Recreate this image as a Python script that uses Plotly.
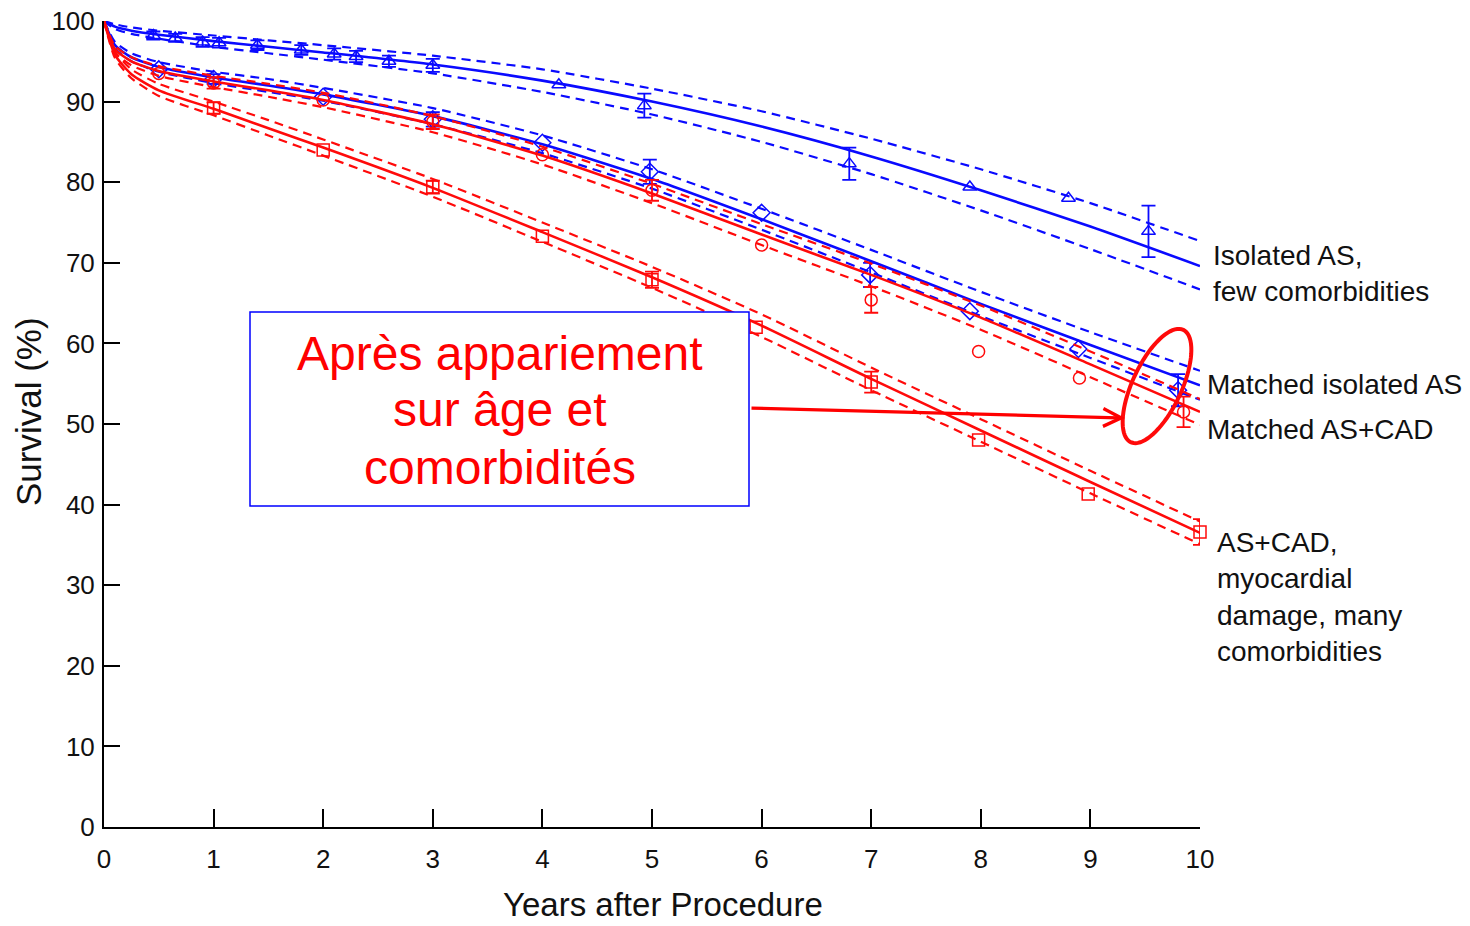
import numpy as np
import plotly.graph_objects as go

# ---------------- data ----------------
t = [0, 0.1, 0.25, 0.5, 1, 1.5, 2, 3, 4, 5, 6, 7, 8, 9, 10]

iso_fit = [100, 99.3, 98.8, 98.3, 97.5, 96.8, 96.1, 94.6, 92.6, 90.0, 86.9, 83.2, 79.0, 74.5, 69.6]
iso_hi = [100, 99.6, 99.2, 98.8, 98.2, 97.6, 97.0, 95.7, 94.0, 91.6, 88.8, 85.4, 81.6, 77.4, 72.7]
iso_lo = [100, 99.0, 98.4, 97.8, 96.8, 96.0, 95.2, 93.5, 91.2, 88.4, 85.0, 81.0, 76.5, 71.7, 66.7]

miso_fit = [100, 97.0, 95.5, 94.3, 93.0, 92.0, 90.9, 88.2, 84.7, 80.4, 75.4, 70.2, 64.9, 59.8, 54.8]
miso_hi = [100, 97.4, 96.0, 94.9, 93.7, 92.8, 91.7, 89.2, 85.8, 81.6, 76.7, 71.6, 66.4, 61.4, 56.6]
miso_lo = [100, 96.6, 95.0, 93.7, 92.3, 91.2, 90.1, 87.2, 83.6, 79.2, 74.1, 68.8, 63.4, 58.2, 53.0]

mcad_fit = [100, 96.5, 95.0, 93.8, 92.5, 91.4, 90.2, 87.2, 83.3, 78.6, 73.5, 68.5, 63.2, 57.4, 51.5]
mcad_hi = [100, 96.9, 95.5, 94.4, 93.2, 92.2, 91.1, 88.2, 84.4, 79.8, 74.8, 69.9, 64.7, 59.0, 53.1]
mcad_lo = [100, 96.1, 94.5, 93.2, 91.8, 90.6, 89.3, 86.2, 82.2, 77.4, 72.2, 67.1, 61.7, 55.8, 49.9]

cad_fit = [100, 95.8, 93.4, 91.4, 89.1, 86.7, 84.3, 79.3, 73.8, 68.2, 62.2, 55.6, 49.2, 42.8, 36.5]
cad_hi = [100, 96.2, 94.0, 92.2, 90.0, 87.7, 85.3, 80.4, 75.0, 69.5, 63.6, 57.0, 50.6, 44.2, 37.9]
cad_lo = [100, 95.4, 92.9, 90.7, 88.3, 85.8, 83.3, 78.2, 72.6, 66.9, 60.8, 54.2, 47.8, 41.4, 35.1]

iso_x = [0.45, 0.65, 0.9, 1.05, 1.4, 1.8, 2.1, 2.3, 2.6, 3.0, 4.15, 4.93, 6.8, 7.9, 8.8, 9.53]
iso_y = [98.2, 97.9, 97.4, 97.3, 97.0, 96.4, 95.9, 95.6, 95.0, 94.5, 92.1, 89.5, 82.3, 79.4, 78.0, 73.9]
iso_err = [0.5, 0.5, 0.6, 0.6, 0.6, 0.6, 0.7, 0.7, 0.7, 0.8, None, 1.5, 2.0, None, None, 3.2]

miso_x = [0.5, 1.0, 2.0, 3.0, 4.0, 4.98, 6.0, 6.99, 7.9, 8.89, 9.8]
miso_y = [94.0, 92.8, 90.6, 87.8, 84.9, 81.3, 76.2, 68.5, 64.0, 59.3, 54.2]
miso_err = [None, 0.6, None, 0.9, None, 1.5, None, 1.5, None, None, 2.0]

mcad_x = [0.5, 1.0, 2.0, 3.0, 4.0, 5.0, 6.0, 7.0, 7.98, 8.9, 9.85]
mcad_y = [93.5, 92.3, 90.2, 87.5, 83.4, 79.0, 72.2, 65.4, 59.0, 55.7, 51.5]
mcad_err = [None, 0.7, None, 0.9, None, 1.3, None, 1.6, None, None, 1.9]

cad_x = [1.0, 2.0, 3.0, 4.0, 5.0, 5.95, 7.0, 7.98, 8.98, 10.0]
cad_y = [89.2, 84.0, 79.4, 73.3, 67.9, 62.0, 55.2, 48.0, 41.3, 36.6]
cad_err = [0.7, None, 0.8, None, 1.0, None, 1.3, None, None, 1.6]

x_ticks = list(range(0, 11))
y_ticks = list(range(0, 101, 10))

# ---------------- style ----------------
BLUE = "#0a0aff"
RED = "#ff0a0a"
FONT = "Liberation Sans, Arial, sans-serif"
W, H = 1470, 926
L, R, T, B = 104, 270, 21, 99
PW, PH = W - L - R, H - T - B
# pixel geometry of the plotting area (for placing decorations)
PX0, PX1, PY0, PY1 = L, W - R, T, H - B


def px2x(px):
    return (px - PX0) / (PX1 - PX0) * 10.0


def py2y(py):
    return (PY1 - py) / (PY1 - PY0) * 100.0


def px2paper(px):
    return (px - PX0) / (PX1 - PX0)


def py2paper(py):
    return (PY1 - py) / (PY1 - PY0)


fig = go.Figure()


def add_curve(fit, hi, lo, color):
    for vals, dash, w in ((hi, "9px,6px", 2.2), (lo, "9px,6px", 2.2), (fit, "solid", 2.6)):
        fig.add_trace(go.Scatter(
            x=t, y=vals, mode="lines",
            line=dict(color=color, width=w, dash=dash, shape="spline", smoothing=0.6),
            hoverinfo="skip", showlegend=False, cliponaxis=False))


def add_markers(xs, ys, errs, color, symbol, size):
    fig.add_trace(go.Scatter(
        x=xs, y=ys, mode="markers",
        marker=dict(symbol=symbol, size=size, color=color,
                    line=dict(color=color, width=1.5)),
        showlegend=False, cliponaxis=False))
    ex = [x for x, e in zip(xs, errs) if e is not None]
    ey = [y for y, e in zip(ys, errs) if e is not None]
    ee = [e for e in errs if e is not None]
    fig.add_trace(go.Scatter(
        x=ex, y=ey, mode="markers", marker=dict(size=1, color="rgba(0,0,0,0)"),
        error_y=dict(type="data", array=ee, visible=True, color=color,
                     thickness=1.8, width=7),
        hoverinfo="skip", showlegend=False, cliponaxis=False))


add_curve(iso_fit, iso_hi, iso_lo, BLUE)
add_curve(miso_fit, miso_hi, miso_lo, BLUE)
add_markers(iso_x, iso_y, iso_err, BLUE, "triangle-up-open", 12)
add_markers(miso_x, miso_y, miso_err, BLUE, "diamond-open", 13)
add_curve(mcad_fit, mcad_hi, mcad_lo, RED)
add_curve(cad_fit, cad_hi, cad_lo, RED)
add_markers(mcad_x, mcad_y, mcad_err, RED, "circle-open", 12)
add_markers(cad_x, cad_y, cad_err, RED, "square-open", 12)

shapes = []
# text box
shapes.append(dict(type="rect", xref="x", yref="y",
                   x0=px2x(250), x1=px2x(749), y0=py2y(506), y1=py2y(312),
                   line=dict(color="#0000ff", width=1.5), fillcolor="white", layer="above"))
# rotated ellipse (defined in pixel space, converted to axis units)
cx, cy, a, b, ang = 1157, 386, 62, 24.5, np.deg2rad(25)
tt = np.linspace(0, 2 * np.pi, 80)
ux, uy = np.sin(ang), -np.cos(ang)
vx, vy = np.cos(ang), np.sin(ang)
ex_ = cx + a * np.cos(tt) * ux + b * np.sin(tt) * vx
ey_ = cy + a * np.cos(tt) * uy + b * np.sin(tt) * vy
path = "M " + " L ".join(f"{px2x(p):.4f},{py2y(q):.4f}" for p, q in zip(ex_, ey_)) + " Z"
shapes.append(dict(type="path", xref="x", yref="y", path=path,
                   line=dict(color=RED, width=4), layer="above"))

annotations = []
# box text
for txt, py in (("Après appariement", 353), ("sur âge et", 410), ("comorbidités", 467)):
    annotations.append(dict(x=px2paper(499.5), y=py2paper(py), xref="paper", yref="paper",
                            text=txt, showarrow=False, xanchor="center", yanchor="middle",
                            font=dict(family=FONT, size=48, color="#ff0000")))
# arrow
annotations.append(dict(x=px2x(1125), y=py2y(418), ax=px2x(750), ay=py2y(408),
                        xref="x", yref="y", axref="x", ayref="y", text="",
                        showarrow=True, arrowhead=5, arrowsize=1.1, arrowwidth=3.2,
                        arrowcolor="#ff0000", standoff=0))
# right-side labels
lab_font = dict(family=FONT, size=28, color="#111111")
for txt, px, py in (("Isolated AS,<br>few comorbidities", 1211, 273.5),
                    ("Matched isolated AS", 1205, 384),
                    ("Matched AS+CAD", 1205, 429),
                    ("AS+CAD,<br>myocardial<br>damage, many<br>comorbidities", 1215, 597)):
    annotations.append(dict(x=px2paper(px), y=py2paper(py), xref="paper", yref="paper",
                            text=txt, showarrow=False, xanchor="left", yanchor="middle",
                            align="left", font=lab_font))
# axis titles
annotations.append(dict(x=px2paper(663), y=py2paper(925), xref="paper", yref="paper",
                        text="Years after Procedure", showarrow=False,
                        xanchor="center", yanchor="bottom",
                        font=dict(family=FONT, size=33, color="#111111")))
annotations.append(dict(x=px2paper(28), y=py2paper(412), xref="paper", yref="paper",
                        text="Survival (%)", showarrow=False, textangle=-90,
                        xanchor="center", yanchor="middle",
                        font=dict(family=FONT, size=35, color="#111111")))

fig.update_layout(
    width=W, height=H, autosize=False,
    margin=dict(l=L, r=R, t=T, b=B, pad=0),
    paper_bgcolor="white", plot_bgcolor="white",
    font=dict(family=FONT, color="#111111"),
    showlegend=False,
    shapes=shapes, annotations=annotations,
    xaxis=dict(range=[0, 10], tickvals=x_ticks, ticktext=[str(v) for v in x_ticks],
               ticks="inside", ticklen=18, tickwidth=1.6, tickcolor="black",
               showline=True, linewidth=2, linecolor="black", showgrid=False,
               zeroline=False, tickfont=dict(family=FONT, size=26, color="#111111"),
               ticklabelstandoff=8, automargin=False),
    yaxis=dict(range=[0, 100], tickvals=y_ticks, ticktext=[str(v) for v in y_ticks],
               ticks="inside", ticklen=16, tickwidth=1.6, tickcolor="black",
               showline=True, linewidth=2, linecolor="black", showgrid=False,
               zeroline=False, tickfont=dict(family=FONT, size=26, color="#111111"),
               ticklabelstandoff=2, automargin=False),
)

fig.write_html("out.html")
